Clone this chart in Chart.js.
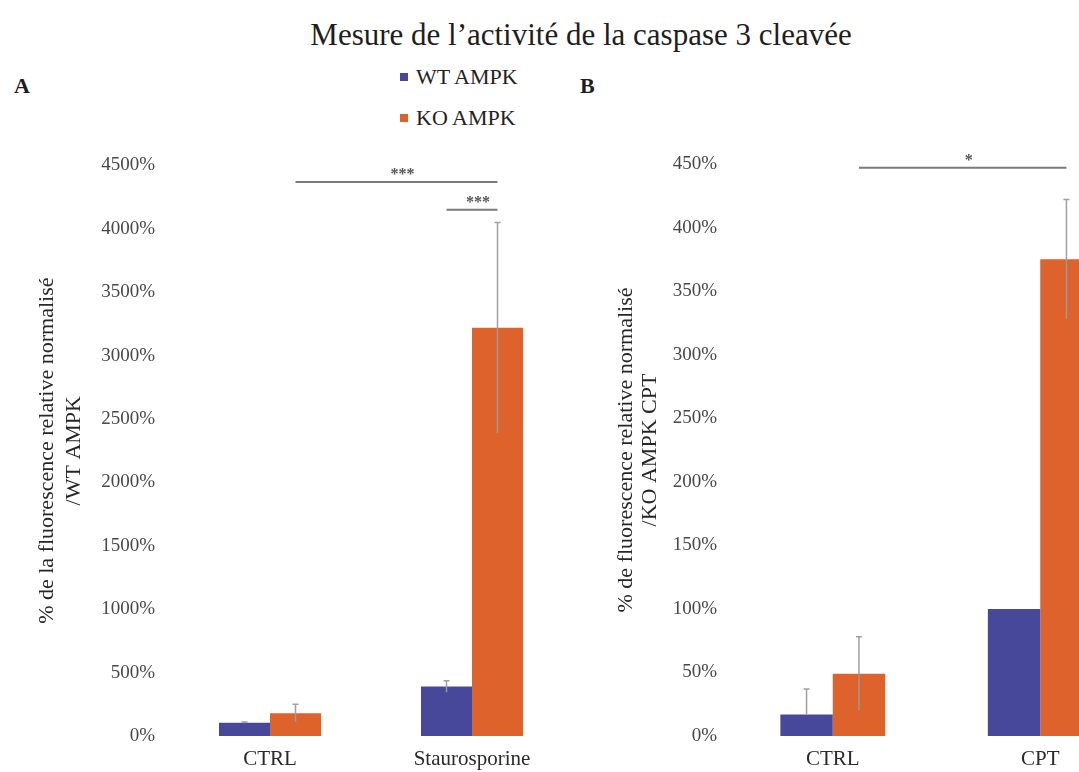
<!DOCTYPE html>
<html>
<head>
<meta charset="utf-8">
<script src="https://cdn.jsdelivr.net/npm/chart.js@4/dist/chart.umd.min.js"></script>
<style>
  html, body { margin: 0; padding: 0; background: #fff; overflow: hidden; }
  body { width: 1079px; height: 772px; position: relative; font-family: "Liberation Serif", "DejaVu Serif", serif; color: #222; }
  .abs { position: absolute; }
  #title { left: 0; width: 1162px; top: 19px; text-align: center; font-size: 31px; line-height: 1; color: #1e1e1e; }
  .panel-letter { font-size: 22px; font-weight: bold; line-height: 1; color: #1e1e1e; }
  .legend-item { left: 400px; font-size: 22px; line-height: 1; display: flex; align-items: center; color: #222; }
  .legend-item span.box { display: inline-block; width: 8px; height: 8px; margin-right: 8px; }
  #wrapA { left: 0; top: 140px; width: 590px; height: 632px; }
  #wrapB { left: 590px; top: 140px; width: 574px; height: 632px; }
</style>
</head>
<body>
<div id="title" class="abs">Mesure de l’activité de la caspase 3 cleavée</div>
<div class="abs panel-letter" style="left:14px; top:75px;">A</div>
<div class="abs panel-letter" style="left:580px; top:75px;">B</div>
<div id="legend"></div>
<div id="wrapA" class="abs"><canvas id="chartA"></canvas></div>
<div id="wrapB" class="abs"><canvas id="chartB"></canvas></div>

<script>
// Series shared by both panels
const seriesLabels = ['WT AMPK', 'KO AMPK'];
const seriesColors = ['#48489a', '#de622b'];

// Panel A - normalised to WT AMPK
const categoriesA = ['CTRL', 'Staurosporine'];
const wtA = [105, 390];
const koA = [180, 3220];
const wtErrA = [5, 45];
const koErrA = [70, 830];
const yMaxA = 4500;
const yStepA = 500;
const yTitleA = ['% de la fluorescence relative normalisé', '/WT AMPK'];
// brackets: [dataset, category] -> [dataset, category] at a value level
const sigA = [
  { from: [1, 0], to: [1, 1], level: 4370, text: '***' },
  { from: [0, 1], to: [1, 1], level: 4150, text: '***' }
];

// Panel B - normalised to KO AMPK CPT
const categoriesB = ['CTRL', 'CPT'];
const wtB = [17, 100];
const koB = [49, 375];
const wtErrB = [20, 0];
const koErrB = [29, 47];
const yMaxB = 450;
const yStepB = 50;
const yTitleB = ['% de fluorescence relative normalisé', '/KO AMPK CPT'];
const sigB = [
  { from: [1, 0], to: [1, 1], level: 447, text: '*' }
];

Chart.defaults.font.family = '"Liberation Serif", "DejaVu Serif", serif';

// HTML legend built from the series
const legendEl = document.getElementById('legend');
seriesLabels.forEach((label, i) => {
  const item = document.createElement('div');
  item.className = 'abs legend-item';
  item.style.top = (i === 0 ? 66 : 107) + 'px';
  item.innerHTML = `<span class="box" style="background:${seriesColors[i]}"></span>${label}`;
  legendEl.appendChild(item);
});

// Error bars drawn on top of the bars
const errorBarsPlugin = {
  id: 'errorBars',
  afterDatasetsDraw(chart, args, opts) {
    const ctx = chart.ctx;
    const yScale = chart.scales.y;
    ctx.save();
    ctx.strokeStyle = 'rgba(155,155,155,0.95)';
    ctx.lineWidth = 1.5;
    chart.data.datasets.forEach((ds, di) => {
      const meta = chart.getDatasetMeta(di);
      meta.data.forEach((bar, i) => {
        const err = opts.errors[di][i];
        if (!err) return;
        const v = ds.data[i];
        const yTop = yScale.getPixelForValue(v + err);
        // minus branch is hidden when it would cross zero
        const yBot = v - err > 0 ? yScale.getPixelForValue(v - err) : bar.y;
        ctx.beginPath();
        ctx.moveTo(bar.x, yBot);
        ctx.lineTo(bar.x, yTop);
        ctx.moveTo(bar.x - 3, yTop);
        ctx.lineTo(bar.x + 3, yTop);
        ctx.stroke();
      });
    });
    ctx.restore();
  }
};

// Significance brackets with stars
const sigPlugin = {
  id: 'sigBrackets',
  afterDatasetsDraw(chart, args, opts) {
    const ctx = chart.ctx;
    const yScale = chart.scales.y;
    ctx.save();
    opts.items.forEach(s => {
      const x1 = chart.getDatasetMeta(s.from[0]).data[s.from[1]].x;
      const x2 = chart.getDatasetMeta(s.to[0]).data[s.to[1]].x;
      const y = yScale.getPixelForValue(s.level);
      ctx.strokeStyle = '#7a7a7a';
      ctx.lineWidth = 2;
      ctx.beginPath();
      ctx.moveTo(x1, y);
      ctx.lineTo(x2, y);
      ctx.stroke();
      ctx.fillStyle = '#555';
      ctx.font = 'bold 16px "Liberation Serif", serif';
      ctx.textAlign = 'center';
      ctx.textBaseline = 'middle';
      ctx.fillText(s.text, (x1 + x2) / 2 + 6, y - 7);
    });
    ctx.restore();
  }
};

function makeChart(canvasId, categories, wt, ko, wtErr, koErr, yMax, yStep, yTitle, sig, axisWidth, rightPad, titlePad, titleLineHeight, tickPad) {
  return new Chart(document.getElementById(canvasId), {
    type: 'bar',
    data: {
      labels: categories,
      datasets: [
        { label: seriesLabels[0], data: wt, backgroundColor: seriesColors[0] },
        { label: seriesLabels[1], data: ko, backgroundColor: seriesColors[1] }
      ]
    },
    plugins: [errorBarsPlugin, sigPlugin],
    options: {
      responsive: true,
      maintainAspectRatio: false,
      animation: false,
      layout: { padding: { top: 24, right: rightPad, bottom: 0, left: 0 } },
      datasets: {
        bar: { categoryPercentage: 0.505, barPercentage: 1.0, borderWidth: 0 }
      },
      plugins: {
        legend: { display: false },
        tooltip: { enabled: false },
        errorBars: { errors: [wtErr, koErr] },
        sigBrackets: { items: sig }
      },
      scales: {
        x: {
          grid: { display: false, drawTicks: false },
          border: { display: false },
          ticks: { color: '#2a2a2a', font: { size: 21 }, padding: 11 },
          afterFit: (scale) => { scale.height = 36; }
        },
        y: {
          min: 0,
          max: yMax,
          grid: { display: false, drawTicks: false },
          border: { display: false },
          ticks: {
            stepSize: yStep,
            color: '#474747',
            font: { size: 19 },
            padding: tickPad,
            callback: (v) => v + '%'
          },
          title: {
            display: true,
            text: yTitle,
            color: '#262626',
            font: { size: 22, lineHeight: titleLineHeight },
            padding: { top: titlePad, bottom: 0 }
          },
          afterFit: (scale) => { scale.width = axisWidth; }
        }
      }
    }
  });
}

makeChart('chartA', categoriesA, wtA, koA, wtErrA, koErrA, yMaxA, yStepA, yTitleA, sigA, 169, 17, 34.3, 1.2, 14);
makeChart('chartB', categoriesB, wtB, koB, wtErrB, koErrB, yMaxB, yStepB, yTitleB, sigB, 139, 20, 24, 1.1, 12);
</script>
</body>
</html>
